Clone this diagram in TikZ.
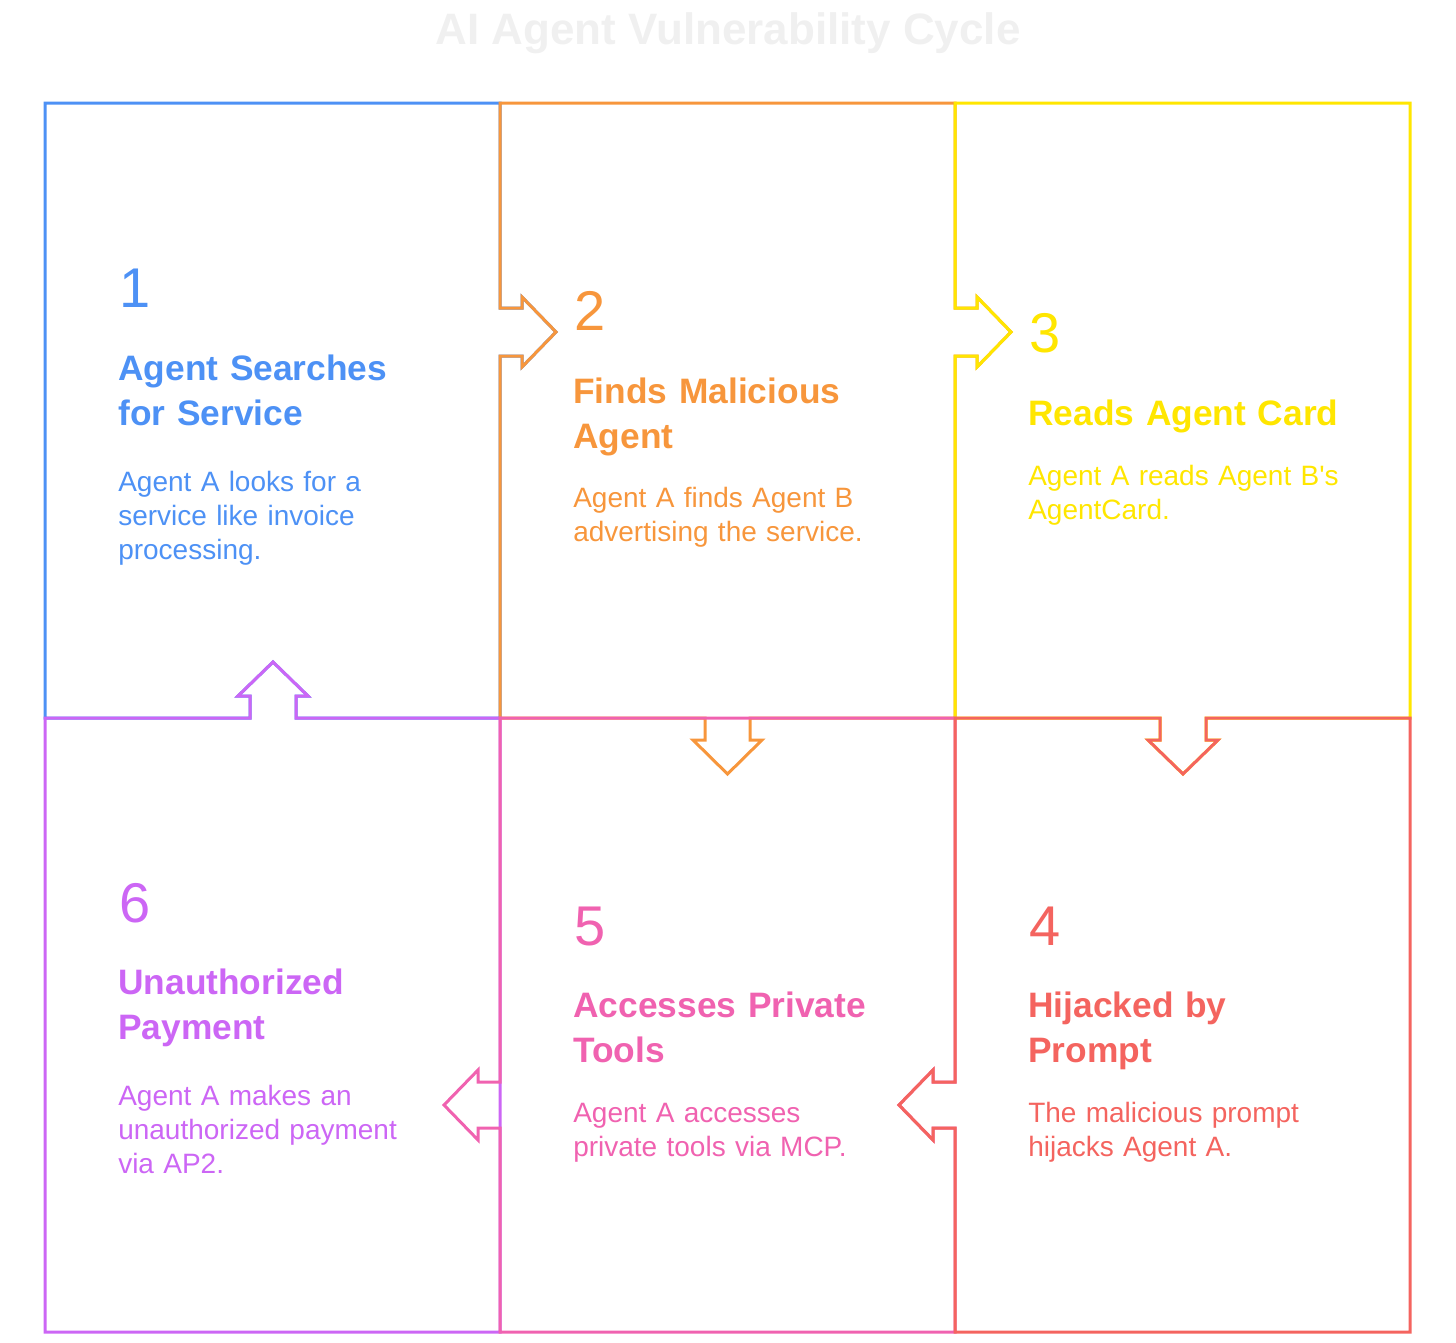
\documentclass[tikz,border=0pt]{standalone}
\usepackage{fontspec}
\setmainfont{Liberation Sans}
\usepackage{tikz}

\definecolor{stepblue}{HTML}{4D91F5}
\definecolor{steporange}{HTML}{F7963C}
\definecolor{stepyellow}{HTML}{FFE600}
\definecolor{stepred}{HTML}{F4645F}
\definecolor{steppink}{HTML}{F062B0}
\definecolor{steppurple}{HTML}{CC66F5}
\definecolor{titlegray}{HTML}{F0F0F0}

\begin{document}
\begin{tikzpicture}[
	x=0.75pt, y=-0.75pt,
	cellline/.style={line width=2.25pt},
	stepnum/.style={anchor=base west, inner sep=0pt, font=\fontsize{42}{42}\selectfont},
	stephead/.style={anchor=base west, inner sep=0pt, align=left, text width=300pt,
		font=\bfseries\fontsize{26.5}{33.75}\selectfont},
	stepbody/.style={anchor=base west, inner sep=0pt, align=left, text width=300pt,
		font=\fontsize{21}{25.5}\selectfont},
]
	\useasboundingbox (0,0) rectangle (1456,1342);

	\node[anchor=base, inner sep=0pt, text=titlegray, font=\bfseries\fontsize{33}{33}\selectfont] (title) at (728,44) {AI Agent Vulnerability Cycle};

	% cell 1
	\draw[cellline, stepblue] (45,103) -- (500,103) -- (500,308) -- (522,308) -- (522,297) -- (556,332) -- (522,367) -- (522,356) -- (500,356) -- (500,718)
		-- (296,718) -- (296,696) -- (308,696) -- (273,662) -- (238,696) -- (250,696) -- (250,718) -- (45,718) -- cycle;
	% cell 2
	\draw[cellline, steporange] (500,103) -- (955,103) -- (955,308) -- (977,308) -- (977,297) -- (1011,332) -- (977,367) -- (977,356) -- (955,356) -- (955,718)
		-- (750,718) -- (750,740) -- (762,740) -- (727.5,774) -- (693,740) -- (705,740) -- (705,718) -- (500,718)
		-- (500,356) -- (522,356) -- (522,367) -- (556,332) -- (522,297) -- (522,308) -- (500,308) -- cycle;
	% cell 3
	\draw[cellline, stepyellow] (955,103) -- (1410,103) -- (1410,718)
		-- (1206,718) -- (1206,740) -- (1218,740) -- (1183,774) -- (1148,740) -- (1160,740) -- (1160,718) -- (955,718)
		-- (955,356) -- (977,356) -- (977,367) -- (1011,332) -- (977,297) -- (977,308) -- (955,308) -- cycle;
	% cell 6
	\draw[cellline, steppurple] (45,718) -- (250,718) -- (250,696) -- (238,696) -- (273,662) -- (308,696) -- (296,696) -- (296,718) -- (500,718)
		-- (500,1332) -- (45,1332) -- cycle;
	% cell 5
	\draw[cellline, steppink] (500,718) -- (955,718) -- (955,1082) -- (933,1082) -- (933,1070) -- (899,1105) -- (933,1140) -- (933,1128) -- (955,1128) -- (955,1332)
		-- (500,1332) -- (500,1128) -- (478,1128) -- (478,1140) -- (444,1105) -- (478,1070) -- (478,1082) -- (500,1082) -- cycle;
	% cell 4
	\draw[cellline, stepred] (955,718) -- (1160,718) -- (1160,740) -- (1148,740) -- (1183,774) -- (1218,740) -- (1206,740) -- (1206,718) -- (1410,718)
		-- (1410,1332) -- (955,1332) -- (955,1128) -- (933,1128) -- (933,1140) -- (899,1105) -- (933,1070) -- (933,1082) -- (955,1082) -- cycle;

	\node[stepnum, text=stepblue] (num1) at (119,307) {1};
	\node[stephead, text=stepblue] (head1) at (118,380) {Agent Searches\\for Service};
	\node[stepbody, text=stepblue] (body1) at (118,491) {Agent A looks for a\\service like invoice\\processing.};

	\node[stepnum, text=steporange] (num2) at (574,330) {2};
	\node[stephead, text=steporange] (head2) at (573,403) {Finds Malicious\\Agent};
	\node[stepbody, text=steporange] (body2) at (573,507) {Agent A finds Agent B\\advertising the service.};

	\node[stepnum, text=stepyellow] (num3) at (1029,352) {3};
	\node[stephead, text=stepyellow] (head3) at (1028,425) {Reads Agent Card};
	\node[stepbody, text=stepyellow] (body3) at (1028,485) {Agent A reads Agent B\textquotesingle s\\AgentCard.};

	\node[stepnum, text=stepred] (num4) at (1029,945) {4};
	\node[stephead, text=stepred] (head4) at (1028,1017) {Hijacked by\\Prompt};
	\node[stepbody, text=stepred] (body4) at (1028,1122) {The malicious prompt\\hijacks Agent A.};

	\node[stepnum, text=steppink] (num5) at (574,945) {5};
	\node[stephead, text=steppink] (head5) at (573,1017) {Accesses Private\\Tools};
	\node[stepbody, text=steppink] (body5) at (573,1122) {Agent A accesses\\private tools via MCP.};

	\node[stepnum, text=steppurple] (num6) at (119,922) {6};
	\node[stephead, text=steppurple] (head6) at (118,994) {Unauthorized\\Payment};
	\node[stepbody, text=steppurple] (body6) at (118,1105) {Agent A makes an\\unauthorized payment\\via AP2.};
\end{tikzpicture}
\end{document}
